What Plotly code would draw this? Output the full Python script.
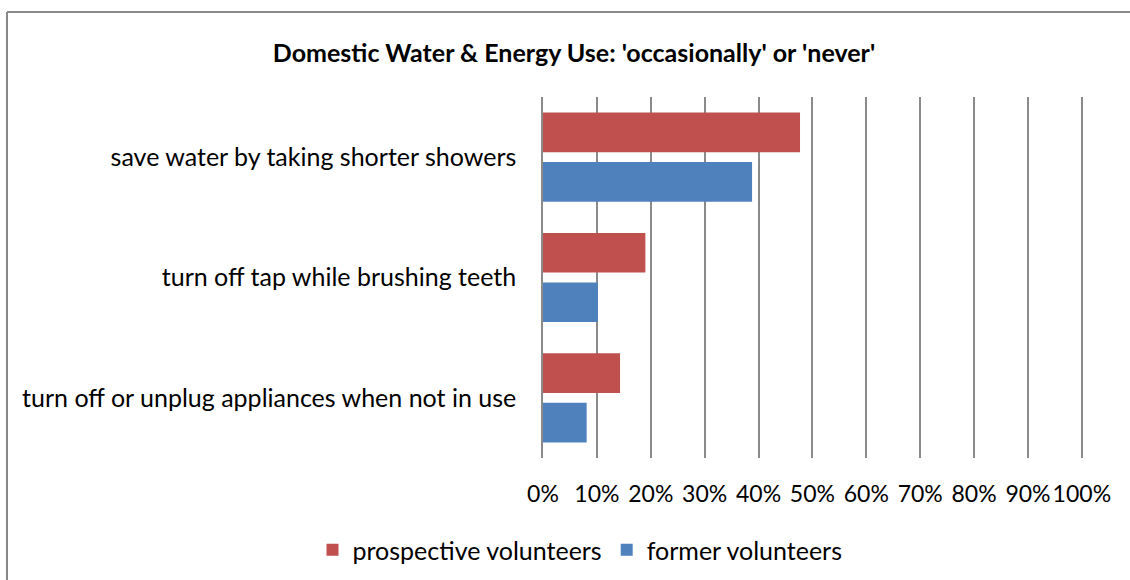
import plotly.graph_objects as go

categories = ["turn off or unplug appliances when not in use",
              "turn off tap while brushing teeth",
              "save water by taking shorter showers"]
prospective = [0.143, 0.190, 0.477]
former = [0.081, 0.102, 0.388]
tick_vals = [0, 0.1, 0.2, 0.3, 0.4, 0.5, 0.6, 0.7, 0.8, 0.9, 1.0]
tick_text = ["0%", "10%", "20%", "30%", "40%", "50%", "60%", "70%", "80%", "90%", "100%"]

FONT = "Lato"
XMAX = 1.004
W, H = 1130, 580
L, T = 543, 97
pw = round(539 * XMAX)
R = W - L - pw
B = H - 458
ph = H - T - B

fig = go.Figure()
fig.add_trace(go.Bar(y=categories, x=former, orientation="h", name="former volunteers",
                     marker=dict(color="#4F81BD", line=dict(width=0))))
fig.add_trace(go.Bar(y=categories, x=prospective, orientation="h", name="prospective volunteers",
                     marker=dict(color="#C0504D", line=dict(width=0))))

def px_x(p):
    return (p - L) / pw

def px_y(p):
    return (H - B - p) / ph

border = dict(color="#898989", width=2)
fig.add_shape(type="line", xref="paper", yref="paper",
              x0=px_x(7), x1=px_x(1135), y0=px_y(12), y1=px_y(12), line=border)
fig.add_shape(type="line", xref="paper", yref="paper",
              x0=px_x(7), x1=px_x(7), y0=px_y(12), y1=px_y(590), line=border)

fig.update_layout(
    width=W, height=H,
    margin=dict(l=L, r=R, t=T, b=B, autoexpand=False),
    paper_bgcolor="white", plot_bgcolor="white",
    barmode="group", bargap=0.177, bargroupgap=0.2,
    title=dict(text="<b>Domestic Water &amp; Energy Use: 'occasionally' or 'never'</b>",
               x=574 / W, xanchor="center", xref="container",
               y=1 - 53 / H, yanchor="middle", yref="container",
               font=dict(family=FONT, size=25, color="black")),
    xaxis=dict(range=[0, XMAX], tickvals=tick_vals, ticktext=tick_text,
               showgrid=True, gridcolor="#8a8a8a", gridwidth=1.5,
               zeroline=False, showline=False, ticks="", tickangle=0,
               ticklabelstandoff=20,
               tickfont=dict(family=FONT, size=23, color="black"), fixedrange=True),
    yaxis=dict(showgrid=False, zeroline=False, showline=True, linecolor="#8a8a8a",
               linewidth=1.5, ticks="", ticklabelstandoff=20,
               tickfont=dict(family=FONT, size=25, color="black")),
    legend=dict(orientation="h", traceorder="reversed", x=px_x(580), xanchor="center",
                y=px_y(550), yanchor="middle",
                font=dict(family=FONT, size=25, color="black"), itemwidth=30),
    showlegend=True,
)

fig.write_html("out.html")
